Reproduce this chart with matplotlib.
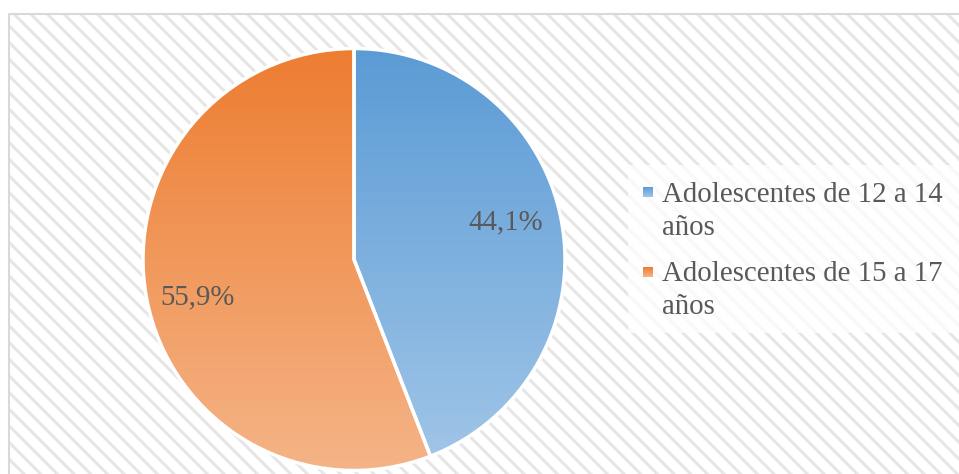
#!/usr/bin/env python3
"""
plot.py — pie chart of adolescents by age group, gradient fills on a hatched panel.
"""

import numpy as np
import matplotlib
matplotlib.use("Agg")
import matplotlib.pyplot as plt
from matplotlib.patches import Rectangle
from matplotlib.colors import LinearSegmentedColormap

# ── Data ──
categories = [("Adolescentes de 12 a 14", "años"), ("Adolescentes de 15 a 17", "años")]
shares = [44.1, 55.9]
pct_labels = ["44,1%", "55,9%"]

# top -> bottom gradient colours per slice
grad_top = ["#5B9BD5", "#ED7D31"]
grad_bottom = ["#A2C6E8", "#F5B487"]

TEXT = "#595959"
FS = 20.8
W, H = 959, 474

plt.rcParams["font.family"] = ["Liberation Serif", "DejaVu Serif"]
plt.rcParams["hatch.linewidth"] = 2.2

fig = plt.figure(figsize=(W / 100, H / 100), dpi=100)
ax = fig.add_axes([0, 0, 1, 1])

# ── Background panel (hatched), border only on top and left ──
ax.add_patch(Rectangle((0, 0), W, H, facecolor="white", edgecolor="none", zorder=0))
ax.add_patch(Rectangle((9, 0), W - 9, H - 14, facecolor="white",
                       edgecolor="#E6E6E6", hatch="\\\\", linewidth=0, zorder=0.5))
ax.plot([9, 9, W], [0, H - 14, H - 14], color="#D9D9D9", lw=1.5, zorder=0.6)

# ── Pie ──
cx, cy, r = 354, H - 259.5, 211
wedges, _ = ax.pie(shares, startangle=90, counterclock=False, center=(cx, cy),
                   radius=r, frame=True,
                   wedgeprops=dict(edgecolor="white", linewidth=2.5))

grad = np.linspace(0, 1, 256).reshape(-1, 1)
for w, top, bot in zip(wedges, grad_top, grad_bottom):
    w.set_facecolor("none")
    w.set_zorder(3)
    cmap = LinearSegmentedColormap.from_list("g", [top, bot])
    im = ax.imshow(grad, cmap=cmap, aspect="auto", origin="upper",
                   extent=[cx - r, cx + r, cy - r, cy + r], zorder=2)
    im.set_clip_path(w)

# percentage labels
ax.text(506, H - 222, pct_labels[0], fontsize=FS, color=TEXT,
        ha="center", va="center", zorder=4)
ax.text(197, H - 297, pct_labels[1], fontsize=FS, color=TEXT,
        ha="center", va="center", zorder=4)

# ── Legend ──
ax.add_patch(Rectangle((628, H - 333), W - 628, 168, facecolor="white",
                       edgecolor="none", alpha=0.75, zorder=3))
for i, ((line1, line2), top, bot) in enumerate(zip(categories, grad_top, grad_bottom)):
    y0 = 187 + i * 80
    cmap = LinearSegmentedColormap.from_list("m", [top, bot])
    ax.imshow(grad, cmap=cmap, aspect="auto", origin="upper",
              extent=[643, 653, H - y0 - 10, H - y0], zorder=4)
    base = 201.7 + i * 79
    ax.text(662, H - base, line1, fontsize=FS, color=TEXT,
            ha="left", va="baseline", zorder=4)
    ax.text(662, H - (base + 33), line2, fontsize=FS, color=TEXT,
            ha="left", va="baseline", zorder=4)

ax.set_xlim(0, W)
ax.set_ylim(0, H)
ax.set_aspect("auto")
ax.axis("off")

fig.savefig("out.png", dpi=100)
